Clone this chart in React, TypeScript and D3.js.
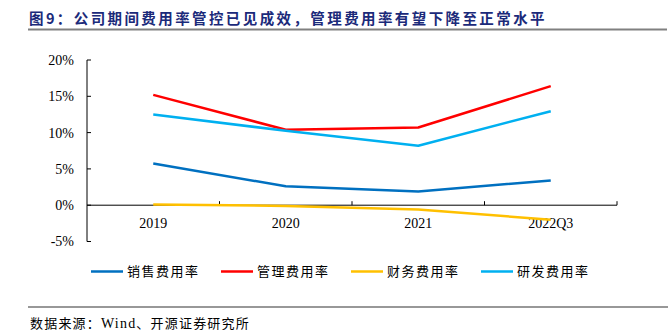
import React from "react";
import * as d3 from "d3";

const categories = ["2019", "2020", "2021", "2022Q3"];
const seriesNames = ["销售费用率", "管理费用率", "财务费用率", "研发费用率"];
const salesRate = [5.75, 2.6, 1.9, 3.4];
const mgmtRate = [15.2, 10.4, 10.7, 16.4];
const finRate = [0.1, -0.1, -0.6, -2.0];
const rdRate = [12.5, 10.25, 8.2, 12.95];
const yTicks = [-5, 0, 5, 10, 15, 20];
const colors = ["#0070C0", "#FF0000", "#FFC000", "#00B0F0"];

const title = "图9：公司期间费用率管控已见成效，管理费用率有望下降至正常水平";
const source = "数据来源：Wind、开源证券研究所";

export default function App() {
  const W = 672, H = 332;
  const x = d3.scaleBand<string>().domain(categories).range([87, 617]);
  const y = d3.scaleLinear().domain([-5, 20]).range([241.5, 60]);
  const series = [salesRate, mgmtRate, finRate, rdRate];
  const line = d3
    .line<number>()
    .x((_, i) => (x(categories[i]) as number) + x.bandwidth() / 2)
    .y((d) => y(d));
  const serif = "'Liberation Serif', 'Times New Roman', serif";
  const cjk = "'Noto Sans CJK SC', sans-serif";
  const legendX = [91, 221, 351, 481];
  return (
    <svg
      width={W}
      height={H}
      style={{ position: "absolute", left: 0, top: 0, background: "#fff" }}
    >
      <text
        x={29}
        y={23.5}
        fontFamily={cjk}
        fontSize={14.5}
        letterSpacing={2.4}
        fontWeight="bold"
        fill="#1B2A7A"
      >
        {title}
      </text>
      <line x1={28} x2={667} y1={29.5} y2={29.5} stroke="#808080" strokeWidth={2} />

      {/* y axis */}
      <line x1={87} x2={87} y1={y(20)} y2={y(-5)} stroke="#000" strokeWidth={1} />
      {yTicks.map((t) => (
        <g key={t}>
          <line x1={87} x2={91} y1={y(t)} y2={y(t)} stroke="#000" />
          <text
            x={74}
            y={y(t)}
            dy="0.35em"
            textAnchor="end"
            fontFamily={serif}
            fontSize={14}
            fill="#000"
          >
            {t + "%"}
          </text>
        </g>
      ))}
      {/* x axis */}
      <line x1={87} x2={617} y1={y(0)} y2={y(0)} stroke="#000" />
      {categories.map((c, i) => (
        <g key={c}>
          <line
            x1={(x(c) as number) + x.bandwidth()}
            x2={(x(c) as number) + x.bandwidth()}
            y1={y(0)}
            y2={y(0) - 4}
            stroke="#000"
          />
          <text
            x={(x(c) as number) + x.bandwidth() / 2}
            y={228}
            textAnchor="middle"
            fontFamily={serif}
            fontSize={14}
            fill="#000"
          >
            {c}
          </text>
        </g>
      ))}
      {series.map((s, i) => (
        <path
          key={i}
          d={line(s) || ""}
          fill="none"
          stroke={colors[i]}
          strokeWidth={2.5}
          strokeLinejoin="round"
        />
      ))}
      {/* legend */}
      {seriesNames.map((n, i) => (
        <g key={n}>
          <line
            x1={legendX[i]}
            x2={legendX[i] + 32}
            y1={271.5}
            y2={271.5}
            stroke={colors[i]}
            strokeWidth={2.5}
          />
          <text
            x={legendX[i] + 36}
            y={271.5}
            dy="0.35em"
            fontFamily={cjk}
            fontSize={13}
            letterSpacing={1.5}
            fill="#000"
          >
            {n}
          </text>
        </g>
      ))}
      <line x1={28} x2={668} y1={307} y2={307} stroke="#333" strokeWidth={1.2} />
      <text x={30} y={323} dy="0.35em" fontFamily={cjk} fontSize={13} letterSpacing={1.2} fill="#000">
        {source.split("Wind")[0]}
        <tspan fontFamily={serif} fontSize={14}>Wind</tspan>
        {source.split("Wind")[1]}
      </text>
    </svg>
  );
}
